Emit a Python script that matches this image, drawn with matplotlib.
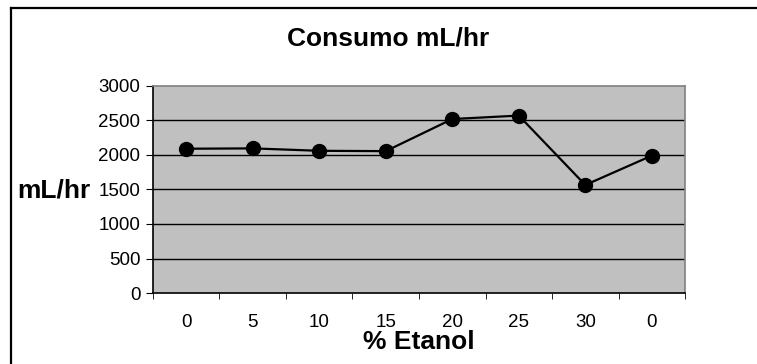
import matplotlib.pyplot as plt
from matplotlib.lines import Line2D

plt.rcParams['font.family'] = ['Liberation Sans', 'DejaVu Sans']

categories = ["0", "5", "10", "15", "20", "25", "30", "0"]
consumo = [2090, 2095, 2060, 2055, 2520, 2570, 1565, 1990]
y_ticks = [0, 500, 1000, 1500, 2000, 2500, 3000]

fig = plt.figure(figsize=(7.57, 3.64), dpi=100)
ax = fig.add_axes([0.202, 0.195, 0.703, 0.569])
ax.set_facecolor("#c0c0c0")

pos = list(range(len(categories)))
ax.plot(pos, consumo, color="black", lw=1.6, marker="o", ms=10, zorder=3)

ax.set_xlim(-0.5, len(categories) - 0.5)
ax.set_ylim(0, 3000)
ax.set_yticks(y_ticks)
ax.set_yticklabels([str(v) for v in y_ticks], fontsize=13.5)
for v in y_ticks[1:-1]:
    ax.axhline(v, color="black", lw=1, zorder=1)

# category labels centred, tick marks between categories
ax.set_xticks(pos)
ax.set_xticklabels(categories, fontsize=13.5)
ax.tick_params(axis="x", which="major", length=0, pad=15)
ax.set_xticks([p - 0.5 for p in pos] + [len(pos) - 0.5], minor=True)
ax.tick_params(axis="x", which="minor", length=4.5, direction="out", color="black")
ax.tick_params(axis="y", length=5, direction="out", color="black", pad=4)

ax.spines["left"].set_color("black")
ax.spines["bottom"].set_color("black")
ax.spines["top"].set_color("#808080")
ax.spines["right"].set_color("#808080")
for s in ax.spines.values():
    s.set_linewidth(1.2)

fig.text(0.513, 0.893, "Consumo mL/hr", ha="center", va="center",
         fontsize=19, fontweight="bold")
fig.text(0.553, 0.06, "% Etanol", ha="center", va="center",
         fontsize=19, fontweight="bold")
fig.text(0.12, 0.478, "mL/hr", ha="right", va="center",
         fontsize=19, fontweight="bold")

# chart frame, only top and left edges are inside the crop
fig.add_artist(Line2D([0.0145, 1.0], [0.978, 0.978], transform=fig.transFigure,
                      color="black", lw=1.6))
fig.add_artist(Line2D([0.0145, 0.0145], [0.0, 0.978], transform=fig.transFigure,
                      color="black", lw=1.6))

fig.savefig("out.png", dpi=100)
